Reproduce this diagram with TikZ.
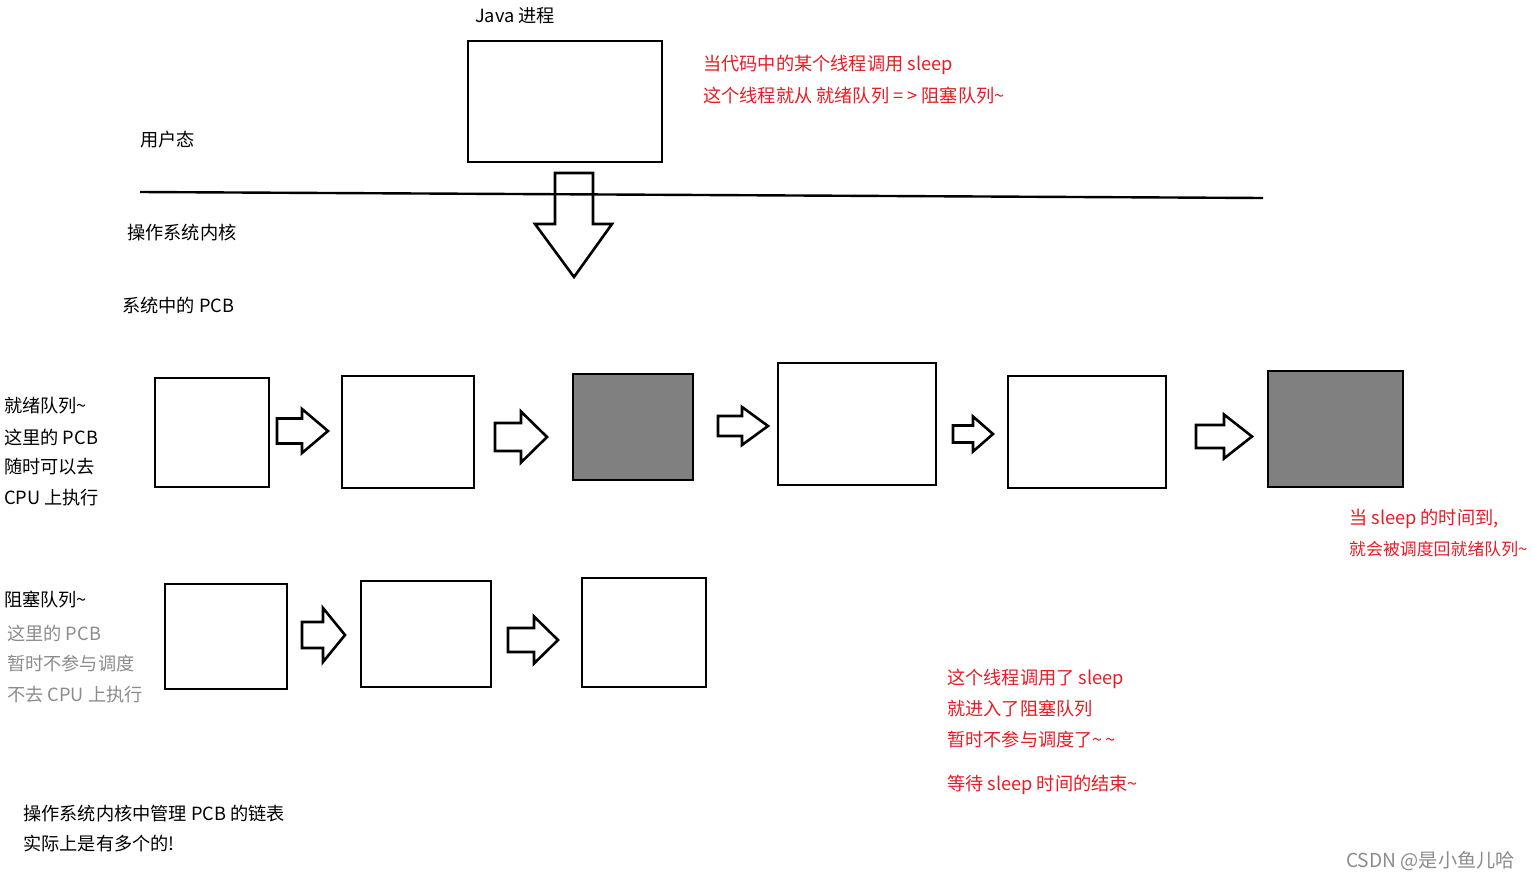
\documentclass[tikz,border=0pt]{standalone}
\usepackage{fontspec}
\setmainfont{Noto Sans CJK SC}
\definecolor{redtxt}{RGB}{232,28,38}
\definecolor{graytxt}{RGB}{140,140,140}
\definecolor{pcbgray}{RGB}{128,128,128}
\newcommand{\rarr}[6]{%
  \draw[blk] (#1,#4-#5) -- (#2,#4-#5) -- (#2,#4-#6) -- (#3,#4) -- (#2,#4+#6) -- (#2,#4+#5) -- (#1,#4+#5) -- cycle;}
\begin{document}
\begin{tikzpicture}[x=1pt,y=-1pt,
  pcb/.style={draw=black,line width=2.6pt,fill=white,inner sep=0pt,outer sep=0pt},
  dark/.style={pcb,fill=pcbgray},
  blk/.style={draw=black,line width=2.6pt,line join=miter,fill=white},
  lbl/.style={anchor=west,inner sep=0pt,font=\fontsize{18.2}{22}\selectfont},
  redlbl/.style={lbl,text=redtxt},
  graylbl/.style={lbl,text=graytxt}]
\useasboundingbox[fill=white] (0,0) rectangle (1532,881);

% top
\node[lbl,anchor=center] (javat) at (515,16) {Java 进程};
\node[pcb,minimum width=194pt,minimum height=121pt] (java) at (565,101.5) {};
\node[lbl] (user) at (140,140) {用户态};
\coordinate (lineL) at (140,192);
\coordinate (lineR) at (1263,198);
\draw[line width=2.4pt] (lineL) -- (lineR);
\node[lbl] (kernel) at (127,233) {操作系统内核};
\node[lbl] (syspcb) at (122,306) {系统中的 PCB};
% down block arrow
\draw[line width=2.6pt,line join=miter] (555,173) -- (593,173) -- (593,224) -- (612,224) -- (574,277) -- (535,224) -- (555,224) -- cycle;

\node[redlbl] (r1t) at (703,65) {当代码中的某个线程调用 sleep};
\node[redlbl] (r2t) at (703,96) {这个线程就从 就绪队列 = > 阻塞队列\textasciitilde};

% ready queue
\node[lbl] (q1) at (4,406) {就绪队列\textasciitilde};
\node[lbl] (q2) at (4,437) {这里的 PCB};
\node[lbl] (q3) at (4,467) {随时可以去};
\node[lbl] (q4) at (4,498) {CPU 上执行};

\node[pcb,minimum width=114pt,minimum height=109pt] (p1) at (212,432.5) {};
\node[pcb,minimum width=132pt,minimum height=112pt] (p2) at (408,432) {};
\node[dark,minimum width=120pt,minimum height=106pt] (p3) at (633,427) {};
\node[pcb,minimum width=158pt,minimum height=122pt] (p4) at (857,424) {};
\node[pcb,minimum width=158pt,minimum height=112pt] (p5) at (1087,432) {};
\node[dark,minimum width=135pt,minimum height=116pt] (p6) at (1335.5,429) {};

\rarr{277}{302}{328}{431}{12.5}{22}
\rarr{495}{521}{547}{437}{14}{25.5}
\rarr{718}{742}{768}{426}{10}{19}
\rarr{953}{973}{993}{434}{8.5}{17.5}
\rarr{1196}{1224}{1252}{436.5}{11.5}{22}

\node[redlbl] (wake1) at (1349,519) {当 sleep 的时间到,};
\node[redlbl,font=\fontsize{16.9}{20}\selectfont] (wake2) at (1349,549) {就会被调度回就绪队列\textasciitilde};

% blocked queue
\node[lbl] (b1t) at (4,600) {阻塞队列\textasciitilde};
\node[graylbl] (b2t) at (7,633) {这里的 PCB};
\node[graylbl] (b3t) at (7,664) {暂时不参与调度};
\node[graylbl] (b4t) at (7,695) {不去 CPU 上执行};

\node[pcb,minimum width=122pt,minimum height=105pt] (k1) at (226,636.5) {};
\node[pcb,minimum width=130pt,minimum height=106pt] (k2) at (426,634) {};
\node[pcb,minimum width=124pt,minimum height=109pt] (k3) at (644,632.5) {};

\rarr{302}{323}{345}{635}{13}{27}
\rarr{508}{534}{558}{640}{12}{23.5}

\node[redlbl] (s1) at (947,679) {这个线程调用了 sleep};
\node[redlbl] (s2) at (947,709) {就进入了阻塞队列};
\node[redlbl] (s3) at (947,740) {暂时不参与调度了\textasciitilde\,\textasciitilde};
\node[redlbl] (s4) at (947,785) {等待 sleep 时间的结束\textasciitilde};

\node[lbl] (m1) at (23,814) {操作系统内核中管理 PCB 的链表};
\node[lbl] (m2) at (23,844) {实际上是有多个的!};

\node[lbl,text=graytxt,font=\fontsize{19.2}{23}\selectfont] (wm) at (1346,861) {CSDN @是小鱼儿哈};
\end{tikzpicture}
\end{document}
